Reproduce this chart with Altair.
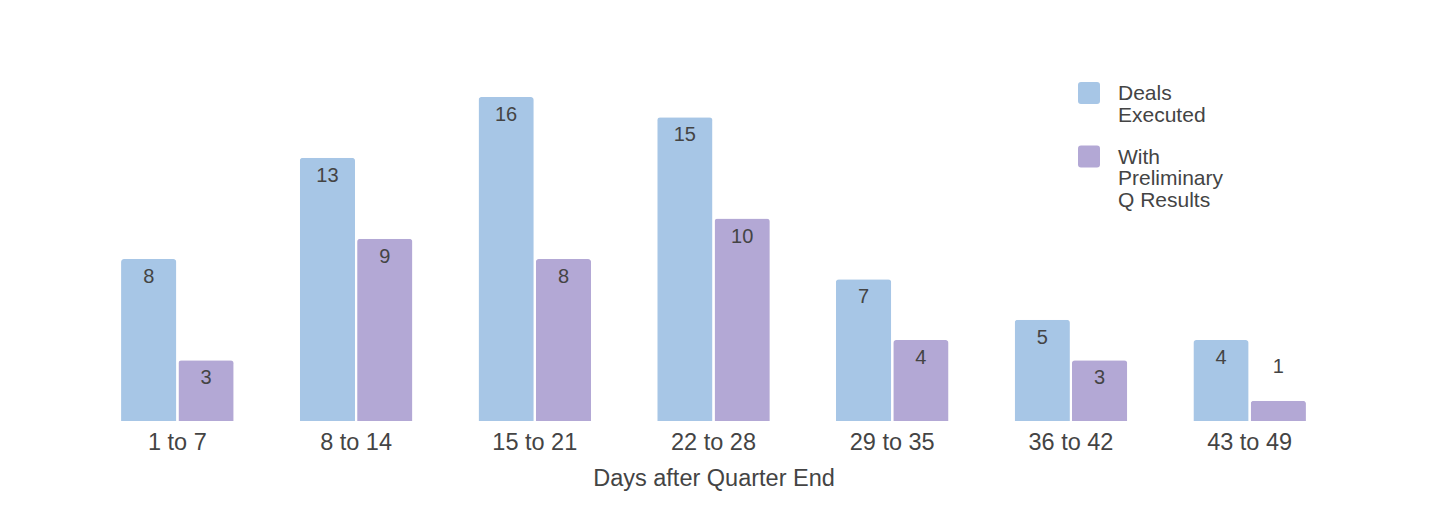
import altair as alt
import pandas as pd

categories = ["1 to 7", "8 to 14", "15 to 21", "22 to 28", "29 to 35", "36 to 42", "43 to 49"]
deals_executed = [8, 13, 16, 15, 7, 5, 4]
with_preliminary = [3, 9, 8, 10, 4, 3, 1]
series_names = ["Deals Executed", "With Preliminary Q Results"]
series_colors = ["#a7c6e6", "#b3a8d5"]

rows = []
for c, a, b in zip(categories, deals_executed, with_preliminary):
    rows.append({"days": c, "series": series_names[0], "value": a})
    rows.append({"days": c, "series": series_names[1], "value": b})
df = pd.DataFrame(rows)

FONT = "Liberation Sans"
TXT = "#444444"

x_enc = alt.X("days:N", sort=categories, title="Days after Quarter End",
              scale=alt.Scale(paddingInner=0.37, paddingOuter=0.185),
              axis=alt.Axis(labelAngle=0, domain=False, ticks=False, labelPadding=9,
                            labelFontSize=23.5, labelColor=TXT, labelFont=FONT,
                            titleFontSize=23.5, titleColor=TXT, titleFont=FONT,
                            titleFontWeight="normal", titlePadding=13))
xo_enc = alt.XOffset("series:N", sort=series_names, scale=alt.Scale(paddingInner=0.036))
y_enc = alt.Y("value:Q", scale=alt.Scale(domain=[0, 16]), axis=None)

sym_path = ("M -0.73,-0.09 L 0.73,-0.09 Q 1,-0.09 1,0.18 L 1,1.64 Q 1,1.91 0.73,1.91 "
            "L -0.73,1.91 Q -1,1.91 -1,1.64 L -1,0.18 Q -1,-0.09 -0.73,-0.09 Z")

bars = alt.Chart(df).mark_bar(cornerRadiusTopLeft=3, cornerRadiusTopRight=3).encode(
    x=x_enc,
    xOffset=xo_enc,
    y=y_enc,
    color=alt.Color("series:N", title=None,
                    scale=alt.Scale(domain=series_names, range=series_colors),
                    legend=alt.Legend(orient="none", legendX=990, legendY=-25,
                                      symbolType=sym_path, symbolSize=484,
                                      symbolStrokeWidth=0, symbolOpacity=1,
                                      labelFontSize=21, labelColor=TXT, labelFont=FONT,
                                      labelBaseline="top", labelOffset=18,
                                      labelLimit=300, rowPadding=9.5, padding=0,
                                      labelExpr="datum.label == 'Deals Executed' ? ['Deals', 'Executed'] : ['With', 'Preliminary', 'Q Results']")),
)

inside = alt.Chart(df).transform_filter("datum.value >= 2").mark_text(
    dy=18, fontSize=20, color=TXT, font=FONT, baseline="middle").encode(
    x=x_enc, xOffset=xo_enc, y=y_enc, text="value:Q")

above = alt.Chart(df).transform_filter("datum.value < 2").mark_text(
    dy=-34, fontSize=20, color=TXT, font=FONT, baseline="middle").encode(
    x=x_enc, xOffset=xo_enc, y=y_enc, text="value:Q")

chart = alt.layer(bars, inside, above).properties(
    width=1251, height=324,
    background="white",
    autosize=alt.AutoSizeParams(type="none"),
    padding={"left": 80, "top": 89, "right": 85, "bottom": 90},
).configure(
    view=alt.ViewConfig(strokeWidth=0, stroke="transparent"),
    style={"guide-label": {"lineHeight": 21.5}},
)

chart.save("out.html", embed_options={"renderer": "svg", "actions": False})
